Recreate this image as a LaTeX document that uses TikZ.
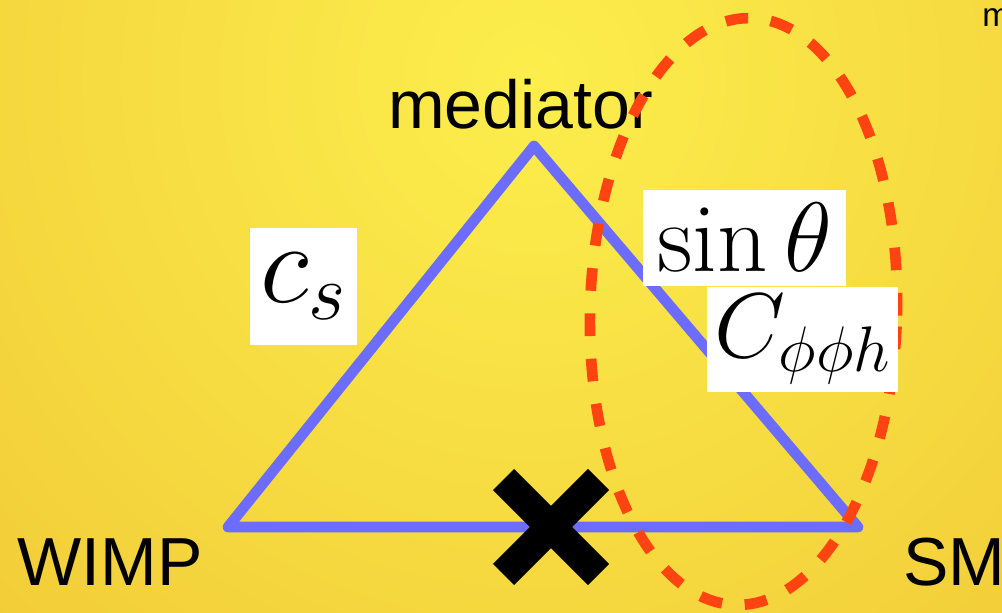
\RequirePackage{fix-cm}
\documentclass[tikz,border=0pt]{standalone}
\usepackage{fontspec}
\newfontfamily\labelfont{Liberation Sans}
\definecolor{legblue}{RGB}{108,108,255}
\definecolor{loopred}{RGB}{255,68,17}
\definecolor{bgin}{RGB}{252,238,76}
\definecolor{bgout}{RGB}{239,194,50}
\begin{document}
\begin{tikzpicture}[x=0.75pt,y=-0.75pt,
        every node/.style={inner sep=0pt},
        word/.style={font=\labelfont\fontsize{51}{60}\selectfont, anchor=base west},
        coupling/.style={fill=white, align=center},
        leg/.style={draw=legblue, line width=8pt, line join=round, line cap=round},
        loop/.style={draw=loopred, line width=8pt, dash pattern=on 17pt off 17pt}]
        % background
        \useasboundingbox (0,0) rectangle (1002,613);
        \clip (0,0) rectangle (1002,613);
        \shade[inner color=bgin, outer color=bgout] (530,80) circle (760pt);
        % labels
        \node[word] (mediator) at (388,129) {mediator};
        \node[word] (wimp) at (17,585) {WIMP};
        \node[word] (sm) at (903,585) {SM};
        \node[word, font=\labelfont\fontsize{25}{30}\selectfont] (mass) at (982,27) {m};
        % triangle
        \coordinate (vwimp) at (228,527);
        \coordinate (vmed) at (534,146);
        \coordinate (vsm) at (858,527);
        \draw[leg] (vwimp) -- (vmed) -- (vsm) -- cycle;
        % mixing region
        \draw[loop, rotate around={-1.5:(743.5,311.5)}] (743.5,311.5) ellipse [x radius=115.1pt, y radius=220.1pt];
        % cut
        \coordinate (cut) at (551,527);
        \draw[line width=22.5pt] (503.5,479.5) -- (598.5,574.5);
        \draw[line width=22.5pt] (598.5,479.5) -- (503.5,574.5);
        % couplings
        \node[coupling, minimum width=80.25pt, minimum height=87.75pt, font=\fontsize{86}{90}\selectfont] (cs) at (303.5,286.5) {$c_s$};
        \node[coupling, minimum width=152.25pt, minimum height=72pt, font=\fontsize{74}{80}\selectfont] (sin) at (744.5,238) {$\sin\theta$};
        \node[coupling, minimum width=143.25pt, minimum height=78.75pt, font=\fontsize{69}{75}\selectfont] (cphi) at (802.5,339.5) {$C_{\phi\phi h}$};
    \end{tikzpicture}
\end{document}
